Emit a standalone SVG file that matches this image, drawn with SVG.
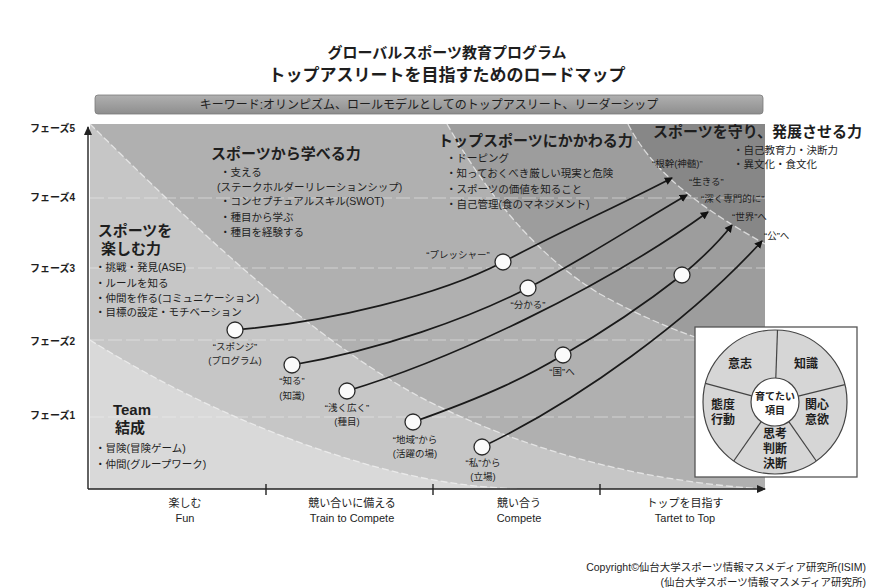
<svg xmlns="http://www.w3.org/2000/svg" width="889" height="588" viewBox="0 0 889 588">
<defs>
<style>
text{font-family:'Liberation Sans','Noto Sans CJK JP','Noto Sans',sans-serif;fill:#1e1e1e}
.t1{font-size:15px;font-weight:bold;text-anchor:middle}
.t2{font-size:17px;font-weight:bold;text-anchor:middle}
.kw{font-size:12px;text-anchor:middle}
.ph{font-size:10px;font-weight:bold}
.hd{font-size:15px;font-weight:bold}
.bl{font-size:10.5px}
.nl{font-size:9.5px;text-anchor:middle}
.el{font-size:9.5px}
.ax{font-size:11px;text-anchor:middle}
.cp{font-size:10.5px;text-anchor:end}
.pie{font-size:12px;font-weight:bold;text-anchor:middle}
.pin{font-size:10px;font-weight:bold;text-anchor:middle}
.bd{fill:none;stroke:#f2f2f2;stroke-width:1.3;stroke-dasharray:7 3;opacity:.75}
.hl{stroke:#f0f0f0;stroke-width:1.2;stroke-dasharray:14 4;opacity:.55}
.cn{fill:none;stroke:#1a1a1a;stroke-width:1.7;marker-end:url(#ah)}
.nd{fill:#fbfbfb;stroke:#2a2a2a;stroke-width:1.3}
.axl{stroke:#222;stroke-width:1.4;fill:none}
</style>
<marker id="ah" markerWidth="9" markerHeight="9" refX="7" refY="4.5" orient="auto" markerUnits="userSpaceOnUse"><path d="M0,0.5 L8,4.5 L0,8.5 z" fill="#111"/></marker>
<marker id="axh" markerWidth="10" markerHeight="10" refX="8" refY="5" orient="auto" markerUnits="userSpaceOnUse"><path d="M0,1 L9,5 L0,9 z" fill="#222"/></marker>
<linearGradient id="kwg" x1="0" y1="0" x2="0" y2="1"><stop offset="0" stop-color="#b0b0b0"/><stop offset="1" stop-color="#8e8e8e"/></linearGradient>
</defs>
<rect width="889" height="588" fill="#ffffff"/>

<g id="title">
<text class="t1" x="447" y="58">グローバルスポーツ教育プログラム</text>
<text class="t2" x="447" y="81">トップアスリートを目指すためのロードマップ</text>
</g>
<g id="keyword">
<rect x="95" y="95" width="668" height="19" rx="3" fill="url(#kwg)" stroke="#7a7a7a" stroke-width="0.8"/>
<text class="kw" x="429" y="109">キーワード:オリンピズム、ロールモデルとしてのトップアスリート、リーダーシップ</text>
</g>

<g id="bands">
<rect x="90" y="124" width="675" height="365" fill="#878787"/>
<path d="M90,124 L628,124 C650,167 690,202 765,244 L765,489 L90,489 Z" fill="#9d9d9d"/>
<path d="M90,124 L447,124 C480,182 530,252 600,294 C650,322 710,346 765,356 L765,489 L90,489 Z" fill="#b0b0b0"/>
<path d="M90,124 C180,212 300,332 420,397 C530,454 650,482 765,489 L90,489 Z" fill="#c6c6c6"/>
<path d="M90,340 C170,390 270,438 380,468 C430,481 470,487 520,489 L90,489 Z" fill="#d9d9d9"/>
<path class="bd" d="M628,124 C650,167 690,202 765,244"/>
<path class="bd" d="M447,124 C480,182 530,252 600,294 C650,322 710,346 765,356"/>
<path class="bd" d="M90,124 C180,212 300,332 420,397 C530,454 650,482 765,489"/>
<path class="bd" d="M90,340 C170,390 270,438 380,468 C430,481 470,487 520,489"/>
<line class="hl" x1="90" y1="198" x2="765" y2="198"/>
<line class="hl" x1="90" y1="268" x2="765" y2="268"/>
<line class="hl" x1="90" y1="340" x2="765" y2="340"/>
<line class="hl" x1="90" y1="417" x2="765" y2="417"/>
</g>

<g id="axes">
<path class="axl" d="M88,489 L88,127" marker-end="url(#axh)"/>
<path class="axl" d="M88,489 L765,489" marker-end="url(#axh)"/>
<line class="axl" x1="266" y1="484" x2="266" y2="495"/>
<line class="axl" x1="433" y1="484" x2="433" y2="495"/>
<line class="axl" x1="600" y1="484" x2="600" y2="495"/>
<text class="ph" x="30" y="132">フェーズ5</text>
<text class="ph" x="30" y="201">フェーズ4</text>
<text class="ph" x="30" y="272">フェーズ3</text>
<text class="ph" x="30" y="345">フェーズ2</text>
<text class="ph" x="30" y="419">フェーズ1</text>
<text class="ax" x="185" y="507">楽しむ</text>
<text class="ax" x="185" y="522">Fun</text>
<text class="ax" x="352" y="507">競い合いに備える</text>
<text class="ax" x="352" y="522">Train to Compete</text>
<text class="ax" x="519" y="507">競い合う</text>
<text class="ax" x="519" y="522">Compete</text>
<text class="ax" x="685" y="507">トップを目指す</text>
<text class="ax" x="685" y="522">Tartet to Top</text>
</g>

<g id="block-team">
<text class="hd" x="132" y="415" text-anchor="middle">Team</text>
<text class="hd" x="130" y="433" text-anchor="middle">結成</text>
<text class="bl" x="95" y="452">・冒険(冒険ゲーム)</text>
<text class="bl" x="95" y="468">・仲間(グループワーク)</text>
</g>
<g id="block-enjoy">
<text class="hd" x="135" y="236" text-anchor="middle">スポーツを</text>
<text class="hd" x="131" y="254" text-anchor="middle">楽しむ力</text>
<text class="bl" x="95" y="271">・挑戦・発見(ASE)</text>
<text class="bl" x="95" y="287">・ルールを知る</text>
<text class="bl" x="95" y="302">・仲間を作る(コミュニケーション)</text>
<text class="bl" x="95" y="316">・目標の設定・モチベーション</text>
</g>
<g id="block-learn">
<text class="hd" x="211" y="159">スポーツから学べる力</text>
<text class="bl" x="220" y="176">・支える</text>
<text class="bl" x="217" y="191">(ステークホルダーリレーションシップ)</text>
<text class="bl" x="220" y="205">・コンセプチュアルスキル(SWOT)</text>
<text class="bl" x="220" y="221">・種目から学ぶ</text>
<text class="bl" x="220" y="236">・種目を経験する</text>
</g>
<g id="block-top">
<text class="hd" x="438" y="146">トップスポーツにかかわる力</text>
<text class="bl" x="446" y="162">・ドーピング</text>
<text class="bl" x="446" y="177">・知っておくべき厳しい現実と危険</text>
<text class="bl" x="446" y="193">・スポーツの価値を知ること</text>
<text class="bl" x="446" y="208">・自己管理(食のマネジメント)</text>
</g>
<g id="block-protect">
<text class="hd" x="653" y="137">スポーツを守り、発展させる力</text>
<text class="bl" x="733" y="154">・自己教育力・決断力</text>
<text class="bl" x="733" y="168">・異文化・食文化</text>
</g>

<g id="connectors">
<path class="cn" d="M235,330 C330,322 440,295 503,262 S620,205 672,178"/>
<path class="cn" d="M292,365 C380,350 470,318 528,288 S640,222 687,195"/>
<path class="cn" d="M347,391 C450,360 600,290 708,212"/>
<path class="cn" d="M413,422 C490,395 530,375 563,355 C610,328 650,300 682,275 C700,260 718,243 732,225"/>
<path class="cn" d="M482,447 C580,400 690,320 762,241"/>
</g>

<g id="node-sponge"><circle class="nd" cx="235" cy="330" r="8"/><text class="nl" x="235" y="350">“スポンジ”</text><text class="nl" x="235" y="364">(プログラム)</text></g>
<g id="node-shiru"><circle class="nd" cx="292" cy="365" r="8"/><text class="nl" x="292" y="384">“知る”</text><text class="nl" x="292" y="399">(知識)</text></g>
<g id="node-asaku"><circle class="nd" cx="347" cy="391" r="8"/><text class="nl" x="347" y="411">“浅く広く”</text><text class="nl" x="347" y="425">(種目)</text></g>
<g id="node-chiiki"><circle class="nd" cx="413" cy="422" r="8"/><text class="nl" x="415" y="443">“地域”から</text><text class="nl" x="415" y="457">(活躍の場)</text></g>
<g id="node-watashi"><circle class="nd" cx="482" cy="447" r="8"/><text class="nl" x="483" y="466">“私”から</text><text class="nl" x="483" y="480">(立場)</text></g>
<g id="node-pressure"><circle class="nd" cx="503" cy="262" r="8"/><text class="nl" x="458" y="258">“プレッシャー”</text></g>
<g id="node-wakaru"><circle class="nd" cx="528" cy="288" r="8"/><text class="nl" x="528" y="308">“分かる”</text></g>
<g id="node-kuni"><circle class="nd" cx="563" cy="355" r="8"/><text class="nl" x="562" y="375">“国”へ</text></g>
<g id="node-mid5"><circle class="nd" cx="682" cy="275" r="8"/></g>

<g id="end-labels">
<text class="el" x="652" y="167">“根幹(神髄)”</text>
<text class="el" x="689" y="185">“生きる”</text>
<text class="el" x="701" y="202">“深く専門的に”</text>
<text class="el" x="732" y="220">“世界”へ</text>
<text class="el" x="764" y="239">“公”へ</text>
</g>

<g id="inset">
<rect x="695" y="327" width="162" height="150" fill="#ffffff" stroke="#555" stroke-width="1.3"/>
<circle cx="775" cy="402" r="72" fill="#d6d6d6" stroke="#444" stroke-width="1.2"/>
<g stroke="#444" stroke-width="1.2">
<line x1="775.8" y1="378" x2="777.5" y2="330"/>
<line x1="798.3" y1="396.2" x2="844.9" y2="384.6"/>
<line x1="788.8" y1="421.7" x2="816.3" y2="461"/>
<line x1="761.2" y1="421.7" x2="733.7" y2="461"/>
<line x1="751.8" y1="395.8" x2="705.4" y2="383.4"/>
</g>
<circle cx="775" cy="402" r="24" fill="#ffffff" stroke="#444" stroke-width="1.2"/>
<text class="pin" x="775" y="400">育てたい</text>
<text class="pin" x="775" y="414">項目</text>
<text class="pie" x="740" y="368">意志</text>
<text class="pie" x="806" y="368">知識</text>
<text class="pie" x="817" y="409">関心</text>
<text class="pie" x="817" y="424">意欲</text>
<text class="pie" x="775" y="438">思考</text>
<text class="pie" x="775" y="453">判断</text>
<text class="pie" x="775" y="468">決断</text>
<text class="pie" x="723" y="409">態度</text>
<text class="pie" x="723" y="424">行動</text>
</g>

<g id="copyright">
<text class="cp" x="866" y="571">Copyright©仙台大学スポーツ情報マスメディア研究所(ISIM)</text>
<text class="cp" x="866" y="586">(仙台大学スポーツ情報マスメディア研究所)</text>
</g>
</svg>
